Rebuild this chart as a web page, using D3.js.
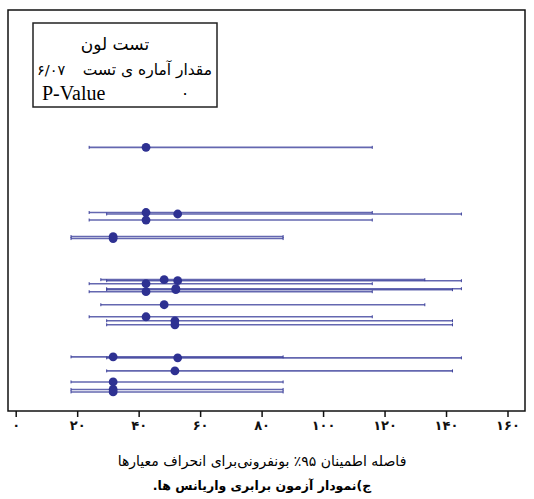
<!DOCTYPE html>
<html>
<head>
<meta charset="utf-8">
<script src="https://cdn.jsdelivr.net/npm/d3@7"></script>
<style>
  body { margin: 0; background: #fff; }
  svg { display: block; }
</style>
</head>
<body>
<div id="chart"></div>
<script>
// Bonferroni 95% intervals for the standard deviations (one per factor level)
const lower  = [23.9, 23.9, 29.6, 23.9, 18.0, 18.0, 27.7, 29.6, 23.9, 29.6, 29.6, 23.9, 27.7, 23.9, 29.6, 29.6, 18.0, 29.6, 29.6, 18.0, 18.0, 18.0];
const upper  = [116.0, 116.0, 145.0, 116.0, 87.0, 87.0, 133.1, 145.0, 116.0, 145.0, 142.1, 116.0, 133.1, 116.0, 142.1, 142.1, 87.0, 145.0, 142.1, 87.0, 87.0, 87.0];
const sigma  = [42.4, 42.4, 52.7, 42.4, 31.7, 31.7, 48.3, 52.7, 42.4, 52.1, 52.1, 42.4, 48.3, 42.4, 51.8, 51.8, 31.7, 52.7, 51.8, 31.7, 31.7, 31.7];
// vertical level of each interval (row units, 0 = top of the panel)
const rowPos = [13.7, 20.2, 20.35, 20.95, 22.6, 22.8, 26.9, 27.0, 27.3, 27.8, 27.9, 28.1, 29.4, 30.6, 31.0, 31.4, 34.6, 34.7, 36.0, 37.1, 37.85, 38.1];

const xTicks = [0, 20, 40, 60, 80, 100, 120, 140, 160];

const legendTitle = "تست لون";
const statLabel = "مقدار آماره ی تست";
const statValue = "۶/۰۷";
const pLabel = "P-Value";
const pValue = "۰";
const xTitle = "فاصله اطمینان ۹۵٪ بونفرونی‌برای انحراف معیارها";
const caption = "ج)نمودار آزمون برابری واریانس ها.";

const toFa = s => String(s).replace(/\d/g, d => "۰۱۲۳۴۵۶۷۸۹"[d]);

const W = 534, H = 499;
const frame = { left: 8, top: 10, right: 525, bottom: 411 };

const svg = d3.select("#chart").append("svg")
    .attr("width", W)
    .attr("height", H);

const x = d3.scaleLinear().domain([0, 160]).range([15.7, 507.5]);
const y = d3.scaleLinear().domain([0, 40]).range([frame.top, frame.bottom]);

const data = lower.map((d, i) => ({ lo: d, hi: upper[i], s: sigma[i], pos: rowPos[i] }));

// panel frame
svg.append("rect")
    .attr("x", frame.left)
    .attr("y", frame.top)
    .attr("width", frame.right - frame.left)
    .attr("height", frame.bottom - frame.top)
    .attr("fill", "none")
    .attr("stroke", "#111")
    .attr("stroke-width", 1.5);

// intervals
const g = svg.append("g");
g.selectAll("line.ci")
    .data(data)
    .enter()
    .append("line")
    .attr("class", "ci")
    .attr("x1", d => x(d.lo))
    .attr("x2", d => x(d.hi))
    .attr("y1", d => y(d.pos))
    .attr("y2", d => y(d.pos))
    .attr("stroke", "#3d419c")
    .attr("stroke-opacity", 0.8)
    .attr("stroke-width", 1.6);

// small end caps
data.forEach(d => {
    [d.lo, d.hi].forEach(v => {
        g.append("line")
            .attr("x1", x(v)).attr("x2", x(v))
            .attr("y1", y(d.pos) - 1.5).attr("y2", y(d.pos) + 1.5)
            .attr("stroke", "#3d419c")
            .attr("stroke-width", 1);
    });
});

g.selectAll("circle")
    .data(data)
    .enter()
    .append("circle")
    .attr("cx", d => x(d.s))
    .attr("cy", d => y(d.pos))
    .attr("r", 4.4)
    .attr("fill", "#2e3192");

// x axis
const axis = svg.append("g")
    .attr("transform", `translate(0,${frame.bottom})`)
    .call(d3.axisBottom(x).tickValues(xTicks).tickSize(6).tickSizeOuter(0).tickPadding(4)
        .tickFormat(d => toFa(d)));
axis.select(".domain").remove();
axis.selectAll("line").attr("stroke", "#111").attr("stroke-width", 1.5);
axis.selectAll("text")
    .attr("font-family", "DejaVu Sans")
    .attr("font-size", 13)
    .attr("font-weight", "bold")
    .attr("fill", "#111");

// legend box
svg.append("rect")
    .attr("x", 33).attr("y", 23)
    .attr("width", 184).attr("height", 84)
    .attr("fill", "#fff")
    .attr("stroke", "#222")
    .attr("stroke-width", 1.5);

const fa = "DejaVu Sans";
svg.append("text")
    .attr("x", 115).attr("y", 50)
    .attr("text-anchor", "middle")
    .attr("direction", "rtl")
    .attr("font-family", fa).attr("font-size", 17)
    .text(legendTitle);
svg.append("text")
    .attr("x", 212).attr("y", 75)
    .attr("text-anchor", "start")
    .attr("direction", "rtl")
    .attr("font-family", fa).attr("font-size", 15.5)
    .text(statLabel);
svg.append("text")
    .attr("x", 37).attr("y", 75)
    .attr("font-family", fa).attr("font-size", 14.5)
    .text(statValue);
svg.append("text")
    .attr("x", 42).attr("y", 100)
    .attr("font-family", "Liberation Serif").attr("font-size", 20)
    .text(pLabel);
svg.append("text")
    .attr("x", 185).attr("y", 99)
    .attr("text-anchor", "middle")
    .attr("font-family", fa).attr("font-size", 16)
    .text(pValue);

// titles
svg.append("text")
    .attr("x", 262).attr("y", 466)
    .attr("text-anchor", "middle")
    .attr("direction", "rtl")
    .attr("font-family", fa).attr("font-size", 14)
    .text(xTitle);
svg.append("text")
    .attr("x", 262).attr("y", 490)
    .attr("text-anchor", "middle")
    .attr("direction", "rtl")
    .attr("font-family", fa).attr("font-size", 12.5)
    .attr("font-weight", "bold")
    .text(caption);
</script>
</body>
</html>
